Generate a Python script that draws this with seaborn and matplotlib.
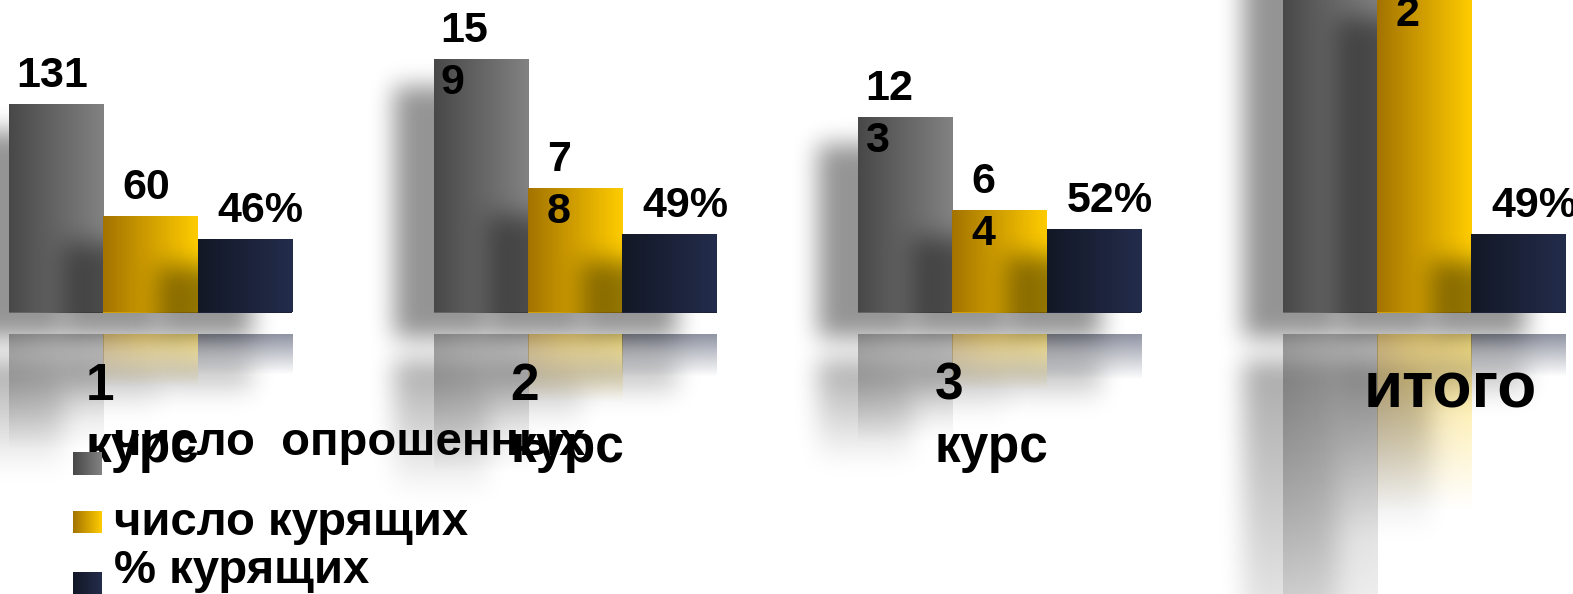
import numpy as np
import pandas as pd
import matplotlib
matplotlib.use("Agg")
import matplotlib.pyplot as plt
import matplotlib.transforms as mtransforms
from matplotlib.colors import to_rgb
import seaborn as sns

# --- data ---
categories = ["1\nкурс", "2\nкурс", "3\nкурс", "итого"]
series = ["число  опрошенных", "число курящих", "% курящих"]
surveyed = [131, 159, 123, 413]
smokers = [60, 78, 64, 202]
percent = [46, 49, 52, 49]
surveyed_labels = ["131", "15\n9", "12\n3", "41\n3"]
smokers_labels = ["60", "7\n8", "6\n4", "20\n2"]
percent_labels = ["46%", "49%", "52%", "49%"]

# left -> right gradient of every series
grad_colors = [("#484848", "#828282"), ("#a37300", "#ffcc00"), ("#131826", "#232c4b")]
cat_fontsize = [37, 37, 37, 46]
cat_baseline = [87.5, 87.5, 87.5, 95]
cat_dx = [-65, -65, -65, -60]

sns.set_theme(style="white")
plt.rcParams['font.family'] = ['Liberation Sans', 'DejaVu Sans']

W, H = 1573, 594
fig = plt.figure(figsize=(W / 100, H / 100), dpi=100)
ax = fig.add_axes([0, 0, 1, 1])

df = pd.DataFrame({
    "group": categories * 3,
    "series": np.repeat(series, len(categories)),
    "value": surveyed + smokers + percent,
})
mid = [tuple((np.array(to_rgb(a)) + np.array(to_rgb(b))) / 2) for a, b in grad_colors]
sns.barplot(data=df, x="group", y="value", hue="series", order=categories,
            hue_order=series, palette=mid, width=0.667, saturation=1,
            errorbar=None, legend=False, linewidth=0, ax=ax)

# layout: baseline at 312.5 px from the top, 1.585 px per unit
ppu = 1.585
ymax = 312.5 / ppu
ymin = -(H - 312.5) / ppu
xmin, xmax = -0.3547, 3.3508
ax.set_xlim(xmin, xmax)
ax.set_ylim(ymin, ymax)
ax.axis("off")


def gradient(c0, c1, n=128):
    t = np.linspace(0, 1, n)[:, None]
    return (1 - t) * np.array(to_rgb(c0)) + t * np.array(to_rgb(c1))


def box1d(a, r, axis):
    a = np.moveaxis(a, axis, -1)
    p = np.pad(a, [(0, 0)] * (a.ndim - 1) + [(r + 1, r)])
    c = np.cumsum(p, axis=-1)
    out = (c[..., 2 * r + 1:] - c[..., :-2 * r - 1]) / (2 * r + 1)
    return np.moveaxis(out, -1, axis)


def blur(a, r):
    for _ in range(3):
        a = box1d(a, r, 0)
        a = box1d(a, r, 1)
    return a


def to_px(x, y):
    d = ax.transData.transform((x, y))
    return d[0], H - d[1]


gap = 22          # white gap between bar and reflection, px
refl_len = 0.55   # reflection length relative to bar height
refl_alpha = 0.5
sh_dx, sh_dy, sh_r, sh_strength = -40, 26, 11, 0.42
pad = 100

for h, cont in enumerate(ax.containers):
    z = 10 + 10 * h
    c0, c1 = grad_colors[h]
    mask = np.zeros((H + 2 * pad, W + 2 * pad))
    for patch in cont:
        patch.set_zorder(z)
        x0, w, hgt = patch.get_x(), patch.get_width(), patch.get_height()
        # gradient fill on top of the seaborn bar
        ax.imshow(gradient(c0, c1)[None, :, :], extent=(x0, x0 + w, 0, hgt),
                  aspect="auto", zorder=z + 1, interpolation="bilinear")
        # reflection below the floor
        L = refl_len * hgt * ppu
        n = max(int(L), 2)
        t = np.linspace(0, 1, n)[:, None]
        rgba = np.zeros((n, 128, 4))
        rgba[..., :3] = gradient(c0, c1)[None, :, :]
        rgba[..., 3] = refl_alpha * (1 - t)
        ax.imshow(rgba, extent=(x0, x0 + w, -(gap + L) / ppu, -gap / ppu),
                  origin="upper", aspect="auto", zorder=z + 2, interpolation="bilinear")
        # shadow mask (bar + reflection), shifted
        cl, rb = to_px(x0, 0)
        cr, rt = to_px(x0 + w, hgt)
        ca = max(int(round(cl + sh_dx)) + pad, 0)
        cb = int(round(cr + sh_dx)) + pad
        ra = max(int(round(rt + sh_dy)) + pad, 0)
        rbb = int(round(rb + sh_dy)) + pad
        mask[ra:rbb, ca:cb] = 1
        rs = int(round(rb + gap + sh_dy)) + pad
        prof = 0.8 * (1 - np.linspace(0, 1, n))
        re = min(rs + n, mask.shape[0])
        mask[rs:re, ca:cb] = np.maximum(mask[rs:re, ca:cb], prof[:re - rs, None])
    mask = blur(mask, sh_r)[pad:pad + H, pad:pad + W]
    shadow = np.zeros((H, W, 4))
    shadow[..., 3] = np.clip(mask, 0, 1) * sh_strength
    ax.imshow(shadow, extent=(xmin, xmax, ymin, ymax), origin="upper",
              aspect="auto", zorder=z - 5, interpolation="nearest")

ax.set_xlim(xmin, xmax)
ax.set_ylim(ymin, ymax)

# value labels
label_sets = [surveyed_labels, smokers_labels, percent_labels]
label_dx = [7, 19, 20]
for h, cont in enumerate(ax.containers):
    for patch, lab in zip(cont, label_sets[h]):
        for k, line in enumerate(lab.split("\n")):
            tr = mtransforms.offset_copy(ax.transData, fig=fig, x=label_dx[h],
                                         y=18 - 52 * k, units="dots")
            ax.text(patch.get_x(), patch.get_height(), line, transform=tr,
                    ha="left", va="baseline", fontsize=31, fontweight="bold",
                    color="black", zorder=100)

# category labels
for i, cat in enumerate(categories):
    for k, line in enumerate(cat.split("\n")):
        tr = mtransforms.offset_copy(ax.transData, fig=fig, x=cat_dx[i],
                                     y=-(cat_baseline[i] + 62 * k), units="dots")
        ax.text(i, 0, line, transform=tr, ha="left", va="baseline",
                fontsize=cat_fontsize[i], fontweight="bold", color="black",
                zorder=100)

# legend, laid out by hand like the original slide
legend_baselines = [455, 535, 583]
legend_boxes = [463, 522, 583]
for h, name in enumerate(series):
    fig.text(114 / W, 1 - legend_baselines[h] / H, name, ha="left", va="baseline",
             fontsize=34, fontweight="bold", color="black")
    sq = fig.add_axes([73 / W, 1 - (legend_boxes[h] + 11.5) / H, 29 / W, 23 / H])
    c0, c1 = grad_colors[h]
    sq.imshow(gradient(c0, c1)[None, :, :], aspect="auto")
    sq.axis("off")

fig.savefig("out.png", dpi=100, facecolor="white")
